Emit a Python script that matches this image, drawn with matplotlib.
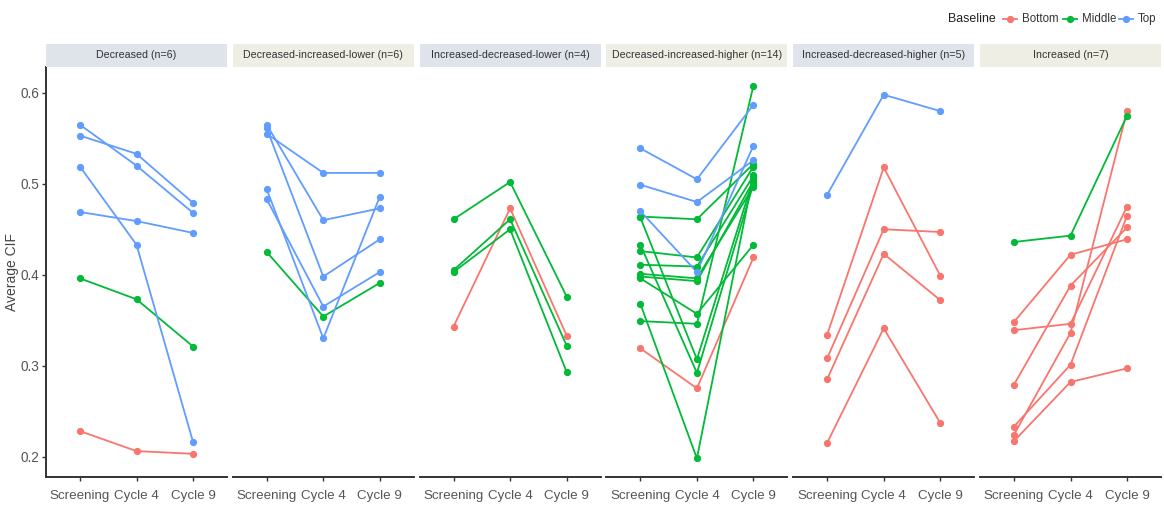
import matplotlib
matplotlib.use("Agg")
import matplotlib.pyplot as plt
from matplotlib.lines import Line2D

plt.rcParams['font.family'] = ['Liberation Sans', 'DejaVu Sans']

# Time points
timepoints = ["Screening", "Cycle 4", "Cycle 9"]
baselines = ["Bottom", "Middle", "Top"]
colors = {"Bottom": "#F8766D", "Middle": "#00BA38", "Top": "#619CFF"}

# Trajectory groups: each row is one patient (Screening, Cycle 4, Cycle 9)
decreased_top = [[0.565, 0.520, 0.468], [0.553, 0.533, 0.479],
                 [0.519, 0.433, 0.216], [0.469, 0.459, 0.446]]
decreased_middle = [[0.396, 0.373, 0.321]]
decreased_bottom = [[0.228, 0.206, 0.203]]

dil_top = [[0.555, 0.512, 0.512], [0.565, 0.460, 0.473],
           [0.561, 0.398, 0.439], [0.494, 0.330, 0.486],
           [0.483, 0.365, 0.403]]
dil_middle = [[0.425, 0.354, 0.391]]

idl_middle = [[0.461, 0.502, 0.376], [0.405, 0.461, 0.322],
              [0.403, 0.450, 0.293]]
idl_bottom = [[0.343, 0.473, 0.333]]

dih_top = [[0.539, 0.505, 0.587], [0.499, 0.480, 0.526],
           [0.470, 0.403, 0.542]]
dih_middle = [[0.464, 0.461, 0.522], [0.463, 0.307, 0.506],
              [0.433, 0.292, 0.500], [0.426, 0.419, 0.519],
              [0.411, 0.409, 0.509], [0.401, 0.396, 0.497],
              [0.398, 0.393, 0.503], [0.396, 0.357, 0.433],
              [0.368, 0.198, 0.510], [0.349, 0.346, 0.608]]
dih_bottom = [[0.319, 0.275, 0.419]]

idh_top = [[0.488, 0.598, 0.580]]
idh_bottom = [[0.334, 0.518, 0.399], [0.308, 0.450, 0.447],
              [0.285, 0.423, 0.372], [0.215, 0.341, 0.237]]

increased_middle = [[0.436, 0.443, 0.575]]
increased_bottom = [[0.348, 0.422, 0.439], [0.339, 0.346, 0.475],
                    [0.279, 0.388, 0.452], [0.233, 0.301, 0.465],
                    [0.224, 0.336, 0.580], [0.217, 0.282, 0.297]]

panel_titles = ["Decreased (n=6)", "Decreased-increased-lower (n=6)",
                "Increased-decreased-lower (n=4)", "Decreased-increased-higher (n=14)",
                "Increased-decreased-higher (n=5)", "Increased (n=7)"]
panel_groups = [
    {"Bottom": decreased_bottom, "Middle": decreased_middle, "Top": decreased_top},
    {"Middle": dil_middle, "Top": dil_top},
    {"Bottom": idl_bottom, "Middle": idl_middle},
    {"Bottom": dih_bottom, "Middle": dih_middle, "Top": dih_top},
    {"Bottom": idh_bottom, "Top": idh_top},
    {"Bottom": increased_bottom, "Middle": increased_middle},
]
strip_colors = ["#dfe3ea", "#efeee4"]

W, H = 1164, 507
fig = plt.figure(figsize=(W / 100, H / 100), dpi=100)

# shared y range with 5% padding
all_vals = [v for g in panel_groups for rows in g.values() for r in rows for v in r]
lo, hi = min(all_vals), max(all_vals)
pad = (hi - lo) * 0.05
ylim = (lo - pad, hi + pad)

left0, pw, step = 46, 181, 186.8
top_px, bottom_px = 67, 477
strip_top = 44

for i, (title, groups) in enumerate(zip(panel_titles, panel_groups)):
    x0 = left0 + i * step
    ax = fig.add_axes([x0 / W, 1 - bottom_px / H, pw / W, (bottom_px - top_px) / H])
    xs = list(range(len(timepoints)))
    for b in baselines:
        for row in groups.get(b, []):
            ax.plot(xs, row, color=colors[b], lw=1.3, zorder=2)
    for b in baselines:
        for row in groups.get(b, []):
            ax.plot(xs, row, linestyle="none", marker="o", ms=4.2,
                    color=colors[b], zorder=3)
    ax.set_xlim(-0.6, 2.6)
    ax.set_ylim(*ylim)
    ax.set_xticks(xs)
    ax.set_xticklabels(timepoints, fontsize=9.6, color="#555555")
    for s in ["top", "right"]:
        ax.spines[s].set_visible(False)
    ax.spines["bottom"].set_color("#333333")
    ax.spines["bottom"].set_linewidth(1.4)
    ax.tick_params(axis="x", length=3, width=1, color="#333333", pad=6)
    if i == 0:
        ax.spines["left"].set_color("#333333")
        ax.spines["left"].set_linewidth(1.4)
        ax.set_yticks([0.2, 0.3, 0.4, 0.5, 0.6])
        ax.set_yticklabels(["0.2", "0.3", "0.4", "0.5", "0.6"], fontsize=9.8, color="#555555")
        ax.tick_params(axis="y", length=3, width=1, color="#333333", pad=2)
        ax.set_ylabel("Average CIF", fontsize=10, color="#444444")
        ax.yaxis.set_label_coords(-27 / pw, 0.5)
    else:
        ax.spines["left"].set_visible(False)
        ax.set_yticks([])
    # facet strip
    sax = fig.add_axes([x0 / W, 1 - top_px / H, pw / W, (top_px - strip_top) / H])
    sax.set_facecolor(strip_colors[i % 2])
    sax.set_xticks([])
    sax.set_yticks([])
    for s in sax.spines.values():
        s.set_visible(False)
    sax.text(0.5, 0.5, title, ha="center", va="center", fontsize=7.7,
             color="#333333", transform=sax.transAxes)

# legend drawn in figure pixels
def fx(px):
    return px / W

def fy(py):
    return 1 - py / H

ly = 19
fig.text(fx(948), fy(ly), "Baseline", fontsize=8.9, color="#222222",
         ha="left", va="center")
key_x = {"Bottom": 1010, "Middle": 1070, "Top": 1126}
for b in baselines:
    kx = key_x[b]
    fig.add_artist(Line2D([fx(kx - 7), fx(kx + 7)], [fy(ly), fy(ly)], color=colors[b],
                          lw=1.3, transform=fig.transFigure))
    fig.add_artist(Line2D([fx(kx)], [fy(ly)], color=colors[b], marker="o", ms=4.2,
                          linestyle="none", transform=fig.transFigure))
    fig.text(fx(kx + 12), fy(ly), b, fontsize=8.3, color="#333333",
             ha="left", va="center")

fig.savefig("out.png", dpi=100, facecolor="white")
